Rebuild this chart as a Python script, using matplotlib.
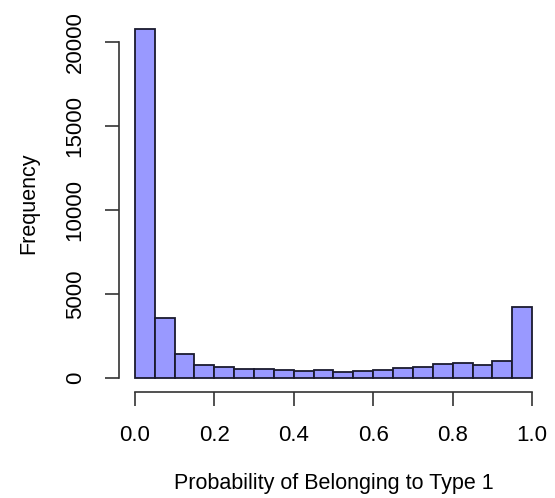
import matplotlib.pyplot as plt
import numpy as np

# histogram counts, 20 bins of width 0.05 over [0, 1]
bin_edges = np.linspace(0, 1, 21)
counts = [20800, 3600, 1450, 790, 630, 550, 550, 480, 400, 456,
          377, 417, 476, 615, 675, 853, 873, 774, 1032, 4246]
x_ticks = [0.0, 0.2, 0.4, 0.6, 0.8, 1.0]
y_ticks = [0, 5000, 10000, 15000, 20000]

plt.rcParams['font.family'] = ['Liberation Sans', 'DejaVu Sans']

fig = plt.figure(figsize=(5.55, 4.98), dpi=100)
ax = fig.add_axes([0.2144, 0.2129, 0.9874 - 0.2144, 0.9699 - 0.2129])

ax.bar(bin_edges[:-1], counts, width=np.diff(bin_edges), align='edge',
       color='#9999ff', edgecolor='#1a1a2e', linewidth=1.3)

ax.set_xlim(-0.04, 1.04)
ax.set_ylim(-0.04 * 20800, 20800 * 1.04)

ax.spines['top'].set_visible(False)
ax.spines['right'].set_visible(False)
ax.spines['left'].set_bounds(0, 20000)
ax.spines['bottom'].set_bounds(0, 1)
for s in ('left', 'bottom'):
    ax.spines[s].set_linewidth(1.2)
    ax.spines[s].set_color('#333333')

ax.set_xticks(x_ticks)
ax.set_xticklabels(['%.1f' % v for v in x_ticks])
ax.set_yticks(y_ticks)
ax.set_yticklabels([str(v) for v in y_ticks], rotation=90, va='center')
ax.tick_params(length=10, width=1.2, color='#333333', labelsize=16)
ax.tick_params(axis='x', pad=14)
ax.tick_params(axis='y', pad=14)

ax.set_xlabel('Probability of Belonging to Type 1', fontsize=15.5, va='center')
ax.set_ylabel('Frequency', fontsize=15.5, va='center')
ax.xaxis.set_label_coords(0.5, -0.244)
ax.yaxis.set_label_coords(-0.21, 0.5)

fig.savefig('out.png', dpi=100)
